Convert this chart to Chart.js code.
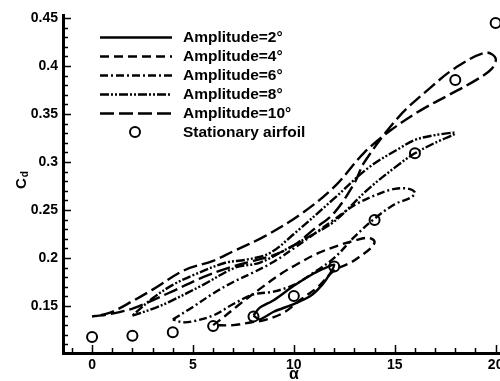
<!DOCTYPE html>
<html>
<head>
<meta charset="utf-8">
<script src="https://cdn.jsdelivr.net/npm/chart.js@4.4.0/dist/chart.umd.min.js"></script>
<style>
  html, body { margin: 0; padding: 0; background: #fff; overflow: hidden; }
  #wrap { width: 520px; height: 381px; }
</style>
</head>
<body>
<div id="wrap"><canvas id="cdChart" width="520" height="381"></canvas></div>
<script>
const FONT = "'Liberation Sans', Arial, Helvetica, sans-serif";

// drag coefficient loops, one closed path per pitch amplitude (alpha in deg)
const alphaAmp2 = [8, 8.3, 9, 10, 11, 11.6, 12, 11.8, 11.4, 10.8, 10, 9, 8.3, 8];
const cdAmp2 = [0.14, 0.148, 0.156, 0.171, 0.184, 0.19, 0.193, 0.184, 0.172, 0.16, 0.152, 0.144, 0.136, 0.14];

const alphaAmp4 = [6, 6.5, 7.2, 8.2, 9.4, 10.2, 11.2, 12.2, 13, 13.7, 14, 13.8, 13.3, 12.8, 12, 11.2, 10.3, 9.5, 8.5, 7.9, 7, 6];
const cdAmp4 = [0.13, 0.138, 0.15, 0.166, 0.184, 0.194, 0.205, 0.213, 0.218, 0.221, 0.217, 0.21, 0.202, 0.195, 0.187, 0.17, 0.156, 0.143, 0.135, 0.133, 0.13, 0.13];

const alphaAmp6 = [4, 5, 6, 7, 8, 9, 10, 11, 12, 13, 14, 15, 15.7, 16, 15.8, 15, 14, 13, 12, 11, 10, 9, 8, 7, 6, 5, 4.5, 4];
const cdAmp6 = [0.136, 0.149, 0.163, 0.175, 0.185, 0.196, 0.21, 0.225, 0.24, 0.255, 0.265, 0.272, 0.272, 0.268, 0.263, 0.256, 0.241, 0.222, 0.2, 0.185, 0.172, 0.165, 0.162, 0.152, 0.14, 0.134, 0.133, 0.136];

const alphaAmp8 = [2, 3, 3.8, 5.5, 7.1, 8.3, 9.7, 10.9, 12, 13.7, 15.3, 16, 17, 18, 17, 16, 15.3, 13.7, 12, 10, 8.8, 7.6, 6.6, 5, 4, 3, 2];
const cdAmp8 = [0.14, 0.147, 0.154, 0.172, 0.19, 0.195, 0.21, 0.224, 0.238, 0.272, 0.299, 0.309, 0.32, 0.33, 0.328, 0.323, 0.315, 0.294, 0.262, 0.225, 0.205, 0.198, 0.195, 0.182, 0.172, 0.158, 0.14];

const alphaAmp10 = [0, 1, 2.1, 3.8, 5.5, 6.8, 8, 9, 10, 11, 12, 13, 13.5, 15.2, 16.8, 18, 19.5, 20, 19.8, 19, 17.7, 16.3, 14.8, 13.5, 12, 10.3, 8.5, 7, 6, 4.6, 3, 2, 0.9, 0];
const cdAmp10 = [0.139, 0.142, 0.148, 0.1635, 0.18, 0.19, 0.197, 0.203, 0.213, 0.23, 0.247, 0.278, 0.3, 0.347, 0.378, 0.398, 0.414, 0.408, 0.397, 0.385, 0.37, 0.354, 0.333, 0.31, 0.274, 0.245, 0.222, 0.207, 0.197, 0.1875, 0.167, 0.155, 0.143, 0.139];

// steady (stationary) airfoil
const alphaStatic = [0, 2, 4, 6, 8, 10, 12, 14, 16, 18, 20];
const cdStatic = [0.1177, 0.119, 0.1226, 0.129, 0.139, 0.1604, 0.191, 0.2396, 0.309, 0.3854, 0.4448];

const xTicks = [0, 5, 10, 15, 20];
const yTicks = [0.15, 0.2, 0.25, 0.3, 0.35, 0.4, 0.45];
const yTickLabels = ['0.15', '0.2', '0.25', '0.3', '0.35', '0.4', '0.45'];

function toPoints(xs, ys) {
    return xs.map((x, i) => ({x: x, y: ys[i]}));
}

function loop(label, xs, ys, dash, tension) {
    return {
        label: label,
        data: toPoints(xs, ys),
        showLine: true,
        borderColor: '#000',
        borderWidth: 2.4,
        borderDash: dash,
        tension: tension,
        pointRadius: 0,
        fill: false
    };
}

// inward tick marks, major every 5 deg / 0.05, minor every 1 deg / 0.01
const innerTicks = {
    id: 'innerTicks',
    afterDraw(chart) {
        const ctx = chart.ctx;
        const xs = chart.scales.x, ys = chart.scales.y;
        const area = chart.chartArea;
        ctx.save();
        ctx.strokeStyle = '#000';
        ctx.lineWidth = 1.5;
        ctx.setLineDash([]);
        ctx.beginPath();
        for (let v = Math.ceil(xs.min); v <= xs.max; v++) {
            const px = Math.round(xs.getPixelForValue(v)) + 0.5;
            const len = (v % 5 === 0) ? 8 : 5;
            ctx.moveTo(px, area.bottom);
            ctx.lineTo(px, area.bottom - len);
        }
        for (let i = 11; i <= 45; i++) {
            const py = Math.round(ys.getPixelForValue(i / 100)) + 0.5;
            const len = (i % 5 === 0) ? 8 : 5;
            ctx.moveTo(area.left, py);
            ctx.lineTo(area.left + len, py);
        }
        ctx.stroke();
        ctx.restore();
    }
};

// axis titles: C_d with subscript, and alpha under the x axis
const axisTitles = {
    id: 'axisTitles',
    afterDraw(chart) {
        const ctx = chart.ctx;
        ctx.save();
        ctx.fillStyle = '#000';
        ctx.translate(26, 189);
        ctx.rotate(-Math.PI / 2);
        ctx.textAlign = 'left';
        ctx.textBaseline = 'alphabetic';
        ctx.font = 'bold 15px ' + FONT;
        ctx.fillText('C', 0, 0);
        const w = ctx.measureText('C').width;
        ctx.font = 'bold 10px ' + FONT;
        ctx.fillText('d', w + 1, 2);
        ctx.restore();

        ctx.save();
        ctx.fillStyle = '#000';
        ctx.font = 'bold 16px ' + FONT;
        ctx.textAlign = 'center';
        ctx.textBaseline = 'middle';
        ctx.fillText('α', chart.scales.x.getPixelForValue(10), 375);
        ctx.restore();
    }
};

// legend inside the plot, top left
const boxLegend = {
    id: 'boxLegend',
    afterDraw(chart) {
        const ctx = chart.ctx;
        ctx.save();
        chart.data.datasets.forEach((ds, i) => {
            const y = 37 + i * 19;
            ctx.strokeStyle = '#000';
            ctx.lineWidth = 2.4;
            if (ds.showLine) {
                ctx.setLineDash(ds.borderDash || []);
                ctx.beginPath();
                ctx.moveTo(100, y + 0.5);
                ctx.lineTo(172, y + 0.5);
                ctx.stroke();
            } else {
                ctx.setLineDash([]);
                ctx.lineWidth = 2;
                ctx.beginPath();
                ctx.arc(135, y, 5, 0, Math.PI * 2);
                ctx.stroke();
            }
            ctx.fillStyle = '#000';
            ctx.font = 'bold 15.5px ' + FONT;
            ctx.textAlign = 'left';
            ctx.textBaseline = 'middle';
            ctx.fillText(ds.label, 183, y + 1);
        });
        ctx.restore();
    }
};

const chart = new Chart(document.getElementById('cdChart'), {
    type: 'scatter',
    data: {
        datasets: [
            loop('Amplitude=2°', alphaAmp2, cdAmp2, [], 0.25),
            loop('Amplitude=4°', alphaAmp4, cdAmp4, [9, 5], 0.35),
            loop('Amplitude=6°', alphaAmp6, cdAmp6, [8, 3, 2, 3], 0.35),
            loop('Amplitude=8°', alphaAmp8, cdAmp8, [9, 2, 2, 2, 2, 2], 0.35),
            loop('Amplitude=10°', alphaAmp10, cdAmp10, [14, 5], 0.35),
            {
                label: 'Stationary airfoil',
                data: toPoints(alphaStatic, cdStatic),
                showLine: false,
                pointStyle: 'circle',
                pointRadius: 5,
                pointBorderWidth: 2,
                pointBorderColor: '#000',
                pointBackgroundColor: 'rgba(0,0,0,0)'
            }
        ]
    },
    options: {
        responsive: false,
        devicePixelRatio: 1,
        animation: false,
        layout: { padding: { top: 15, right: 2, left: 0, bottom: 0 } },
        plugins: {
            legend: { display: false },
            tooltip: { enabled: false }
        },
        scales: {
            x: {
                type: 'linear',
                min: -1.44,
                max: 20.86,
                grid: { display: false, drawTicks: false },
                border: { display: true, width: 3, color: '#000' },
                ticks: {
                    color: '#000',
                    padding: 4,
                    maxRotation: 0,
                    font: { family: FONT, size: 14, weight: 'bold' }
                },
                afterBuildTicks: s => { s.ticks = xTicks.map(v => ({value: v})); },
                afterFit: s => { s.height = 28; }
            },
            y: {
                type: 'linear',
                min: 0.101,
                max: 0.4531,
                grid: { display: false, drawTicks: false },
                border: { display: true, width: 3, color: '#000' },
                ticks: {
                    color: '#000',
                    padding: 5,
                    font: { family: FONT, size: 14, weight: 'bold' },
                    callback: (v, i) => yTickLabels[i]
                },
                afterBuildTicks: s => { s.ticks = yTicks.map(v => ({value: v})); },
                afterFit: s => { s.width = 63; }
            }
        }
    },
    plugins: [innerTicks, axisTitles, boxLegend]
});
</script>
</body>
</html>
